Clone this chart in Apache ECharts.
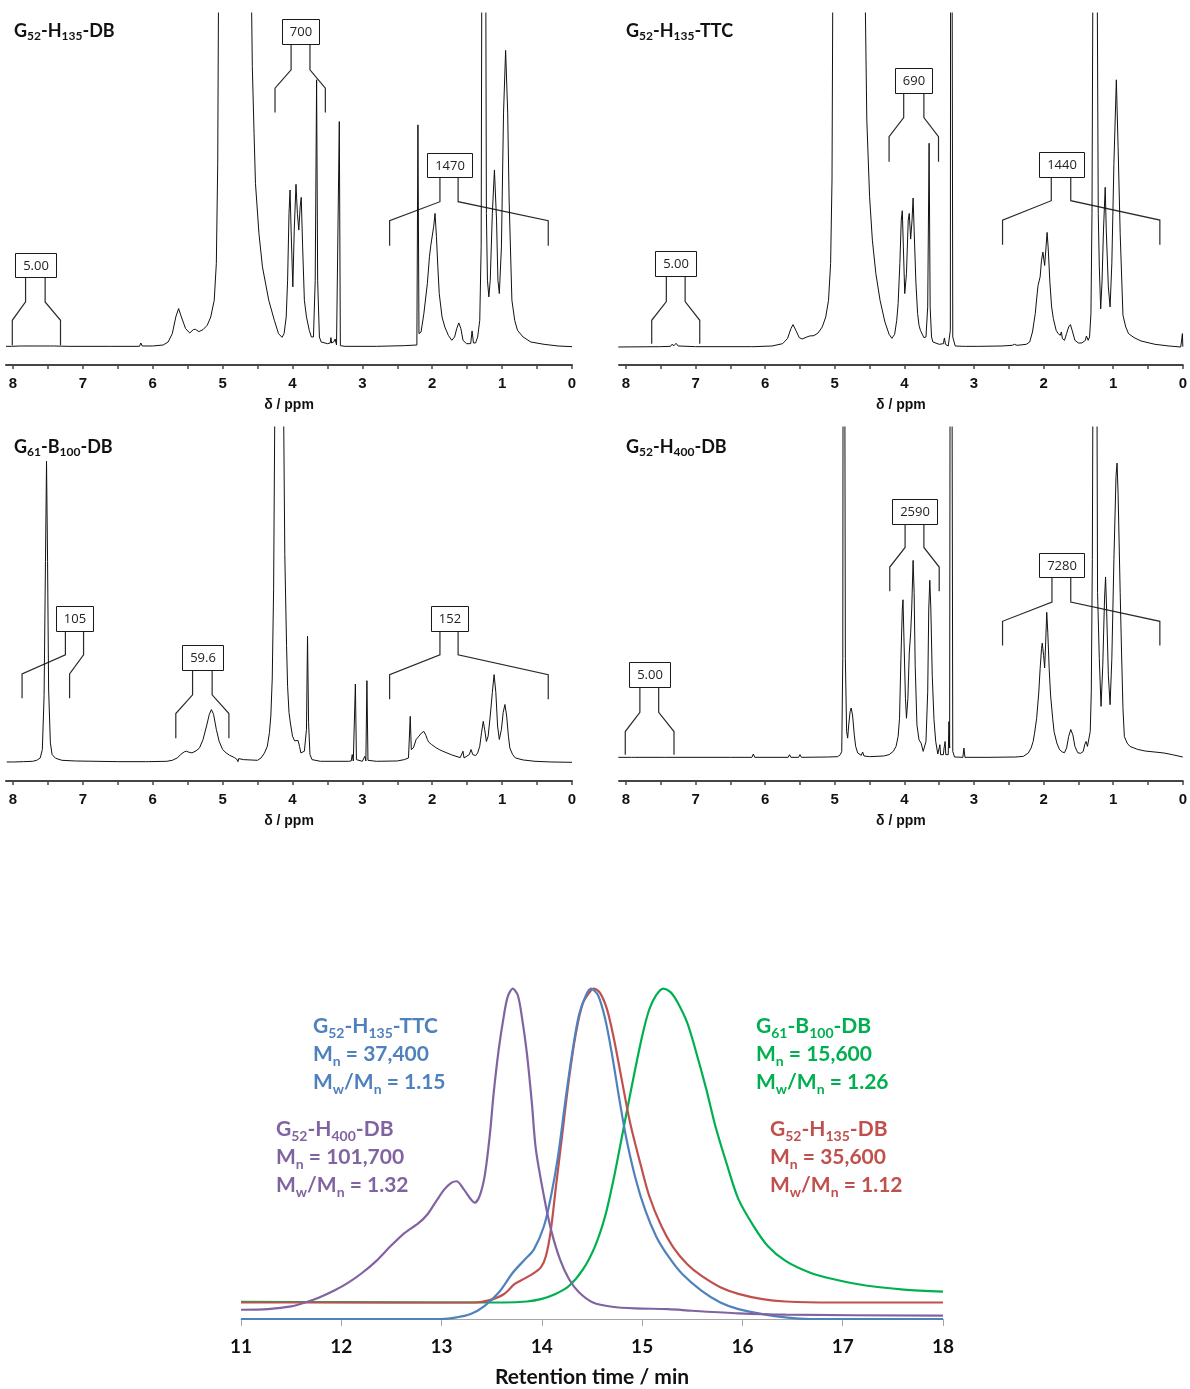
<!DOCTYPE html>
<html>
<head>
<meta charset="utf-8">
<title>1H NMR spectra and SEC traces</title>
<script src="https://cdn.jsdelivr.net/npm/echarts@6/dist/echarts.min.js"></script>
<style>
  html, body { margin: 0; padding: 0; background: #ffffff; }
  #chart { width: 1190px; height: 1389px; }
</style>
</head>
<body>
<div id="chart"></div>
<script>
// ---------------- 1H NMR data: [delta / ppm, relative intensity] ----------------
const ppmTicks = [8, 7, 6, 5, 4, 3, 2, 1, 0];
const ppmTickMarks = [8, 7.5, 7, 6.5, 6, 5.5, 5, 4.5, 4, 3.5, 3, 2.5, 2, 1.5, 1, 0.5, 0];

const spectrumDB135 = [
  [8.1,0.2],[8.02,0.2],[7.9,0.3],[7.88,0.7],[7.86,0.3],[7.64,0.3],[7.62,0.6],[7.6,0.3],[7.46,0.3],[7.44,0.8],[7.42,0.3],
  [7.2,0.2],[6.6,0.2],[6.19,0.2],[6.17,1.2],[6.15,0.3],[6.0,0.3],[5.85,0.6],[5.78,1.5],[5.72,4],[5.67,9],[5.63,11.5],
  [5.59,9],[5.53,5.5],[5.47,4.2],[5.42,5.2],[5.39,5.3],[5.34,4.6],[5.28,5.2],[5.22,6.5],[5.17,9],[5.12,14],[5.09,25],
  [5.07,55],[5.06,100],[5.04,300],[4.82,600],[4.61,300],[4.59,110],[4.575,84],[4.55,64],[4.53,49],[4.48,34],[4.43,24],
  [4.34,14],[4.26,8],[4.2,4],[4.15,2.9],[4.12,4],[4.09,9],[4.07,20],[4.05,40],[4.035,47],[4.02,35],[3.995,18],[3.975,35],
  [3.95,48.7],[3.93,40],[3.91,35],[3.89,42],[3.875,44.8],[3.855,30],[3.83,14],[3.8,9],[3.78,8.5],[3.76,5],[3.73,3],
  [3.70,3],[3.675,20],[3.655,80],[3.64,20],[3.615,3],[3.59,1.5],[3.5,1],[3.46,1.2],[3.45,2.8],[3.44,1.2],[3.41,1.5],
  [3.39,2.4],[3.37,0.6],[3.345,0.4],[3.33,67.5],[3.315,0.4],[3.25,0.2],[2.8,0.2],[2.4,0.4],[2.22,0.6],[2.205,66.5],
  [2.19,4],[2.16,4.5],[2.12,10],[2.07,19],[2.04,27],[2.02,30.5],[2.0,30],[1.98,36],[1.96,40],[1.94,33],[1.92,24],
  [1.9,16],[1.86,9],[1.82,6],[1.77,3.5],[1.72,2],[1.68,3],[1.65,5.5],[1.62,7.2],[1.59,5.5],[1.56,2],[1.51,1],[1.45,1],
  [1.43,4.8],[1.41,1.2],[1.38,1.2],[1.35,3],[1.32,8],[1.3,30],[1.29,120],[1.28,300],[1.265,130],[1.25,300],[1.235,120],
  [1.225,40],[1.21,20],[1.19,15],[1.17,20],[1.14,40],[1.11,53],[1.08,38],[1.06,20],[1.04,16],[1.01,30],[0.98,70],
  [0.95,88.8],[0.92,70],[0.9,44],[0.86,14],[0.82,8],[0.78,5],[0.7,3],[0.59,1.5],[0.4,0.8],[0.2,0.3],[0,0.1]
];

const spectrumTTC135 = [
  [8.11,0],[7.5,0.1],[7.36,0.2],[7.34,0.8],[7.31,0.4],[7.28,1.1],[7.25,0.3],[7.0,0.1],[6.2,0.1],[6.18,0.4],[6.16,0.1],
  [5.9,0.3],[5.75,1],[5.68,2.5],[5.63,5.5],[5.6,6.7],[5.56,5],[5.51,2.8],[5.47,2.4],[5.4,3],[5.36,3.3],[5.3,3.4],
  [5.24,4.2],[5.18,6],[5.13,9],[5.09,14],[5.06,25],[5.04,50],[5.03,100],[5.01,300],[4.8,600],[4.58,300],[4.56,100],
  [4.54,68],[4.5,45],[4.46,32],[4.41,22],[4.35,14],[4.28,7.5],[4.22,3.8],[4.18,2.6],[4.14,3.8],[4.11,8],[4.09,13],
  [4.065,25],[4.045,38],[4.03,40.8],[4.015,30],[3.995,16],[3.97,22],[3.945,38],[3.93,40],[3.91,32.3],[3.89,38],
  [3.875,44.6],[3.86,35],[3.835,19.4],[3.81,10],[3.79,6.5],[3.77,5],[3.75,4.5],[3.72,2.8],[3.69,3],[3.665,12],
  [3.645,61],[3.63,12],[3.61,3],[3.59,1.5],[3.5,0.8],[3.44,1],[3.425,2.7],[3.41,0.8],[3.37,0.3],[3.34,5],[3.33,300],
  [3.318,300],[3.305,3],[3.27,0.3],[3.16,0.2],[3.14,0.6],[3.12,0.2],[2.97,0.2],[2.95,0.6],[2.93,0.2],[2.6,0.3],[2.45,0.5],
  [2.42,0.8],[2.38,0.5],[2.25,0.8],[2.2,1.5],[2.16,4.5],[2.12,10],[2.1,14.4],[2.08,18.4],[2.05,21],[2.03,26],[2.01,28.4],
  [1.985,24.4],[1.965,30],[1.95,34.3],[1.935,30],[1.91,19.4],[1.885,12],[1.86,8.5],[1.82,5],[1.79,4],[1.76,3.5],
  [1.745,4.5],[1.73,2.5],[1.7,2],[1.67,4],[1.64,6],[1.615,6.7],[1.59,5],[1.55,2],[1.5,1.2],[1.45,1.2],[1.4,2],
  [1.385,3.3],[1.36,2],[1.34,3],[1.32,10],[1.305,40],[1.29,120],[1.28,300],[1.26,130],[1.245,300],[1.23,110],
  [1.215,40],[1.2,24],[1.18,11.4],[1.16,20],[1.14,35],[1.115,47.8],[1.1,35],[1.07,18],[1.045,12],[1.02,25],[0.99,55],
  [0.955,80],[0.93,60],[0.9,34],[0.86,9.5],[0.82,6],[0.78,4],[0.7,2.8],[0.6,1.8],[0.4,0.8],[0.2,0.3],[0.03,0],
  [0.012,0.1],[0.006,4],[0,0.1]
];

const spectrumB100 = [
  [8.09,0.3],[8.02,0.3],[8.0,0.7],[7.98,0.3],[7.85,0.4],[7.72,0.5],[7.66,0.8],[7.61,1.5],[7.58,4],[7.555,20],[7.535,60],
  [7.52,89.8],[7.505,60],[7.49,22],[7.465,6],[7.44,2.5],[7.39,1.4],[7.3,0.8],[7.11,0.6],[6.5,0.4],[6.1,0.4],[6.08,0.7],
  [6.06,0.4],[5.8,0.5],[5.72,0.8],[5.65,1.5],[5.6,2.5],[5.55,3.3],[5.52,3.5],[5.48,3.2],[5.44,3],[5.38,3.6],[5.33,4.5],
  [5.28,7],[5.23,11],[5.19,14.5],[5.16,15.9],[5.13,14.5],[5.09,10],[5.05,6.5],[5.0,4],[4.95,3],[4.9,2.3],[4.83,1.6],
  [4.8,1.2],[4.78,0.4],[4.77,1.3],[4.7,1],[4.5,0.8],[4.45,1.5],[4.4,3],[4.36,5],[4.33,9],[4.31,14],[4.29,25],[4.27,52],
  [4.255,100],[4.24,300],[4.19,500],[4.14,300],[4.125,100],[4.11,62],[4.085,35],[4.07,22.8],[4.05,15],[4.03,11.9],
  [4.0,8],[3.97,6.6],[3.945,6.3],[3.92,6.7],[3.9,5],[3.88,3],[3.86,2.5],[3.83,3.5],[3.80,10],[3.785,37.7],[3.77,12],
  [3.75,2.5],[3.72,1],[3.6,0.5],[3.2,0.5],[3.16,0.6],[3.145,2.5],[3.13,0.6],[3.115,1],[3.1,23.5],[3.085,1],[3.0,0.5],
  [2.98,0.6],[2.965,2],[2.95,0.6],[2.935,24.5],[2.92,0.8],[2.8,0.5],[2.5,0.6],[2.4,1],[2.34,1.5],[2.315,13.9],[2.3,4],
  [2.27,4.5],[2.23,7],[2.19,8],[2.15,9],[2.12,9.4],[2.09,8.2],[2.07,7],[2.05,6.2],[2.03,5.7],[2.01,5.5],[1.95,4.6],
  [1.9,4],[1.85,3.5],[1.79,3],[1.72,2.4],[1.66,2],[1.6,1.6],[1.575,1.5],[1.56,3.5],[1.545,1.5],[1.52,1.6],[1.47,2.5],
  [1.445,4],[1.42,2.5],[1.38,2.2],[1.35,3],[1.32,5],[1.295,9],[1.27,12.4],[1.25,10],[1.225,6.4],[1.2,8],[1.17,14],
  [1.14,21],[1.115,26.3],[1.09,21],[1.065,11],[1.04,7],[1.01,10],[0.985,15],[0.96,17.4],[0.935,14],[0.91,8],[0.89,4.5],
  [0.85,2.5],[0.81,1.5],[0.7,0.9],[0.53,0.5],[0.3,0.3],[0,0.2]
];

const spectrumDB400 = [
  [8.11,0.2],[7.92,0.2],[7.9,0.5],[7.88,0.2],[7.47,0.2],[7.45,0.5],[7.43,0.2],[6.5,0.2],[6.19,0.2],[6.17,1.2],[6.15,0.2],
  [5.67,0.2],[5.65,1],[5.63,0.2],[5.52,0.2],[5.5,1],[5.48,0.2],[5.1,0.3],[4.96,0.4],[4.92,1],[4.9,2],[4.885,30],
  [4.873,300],[4.86,300],[4.848,30],[4.83,8],[4.815,6],[4.8,10],[4.78,14],[4.765,15.1],[4.745,13],[4.72,7],[4.7,3.5],
  [4.67,1.5],[4.62,0.8],[4.6,1.8],[4.58,0.6],[4.5,0.4],[4.3,0.6],[4.22,1],[4.16,2],[4.12,3.5],[4.09,6.5],[4.07,12],
  [4.05,30],[4.03,45],[4.02,47.8],[4.005,35],[3.985,18],[3.97,12],[3.95,18],[3.93,31.7],[3.91,37.8],[3.895,45],
  [3.875,59.7],[3.86,50],[3.845,28],[3.82,10],[3.79,5.5],[3.76,4.5],[3.73,2],[3.71,1.5],[3.69,5],[3.665,20],[3.65,45],
  [3.635,53.7],[3.62,45],[3.6,25],[3.575,11.6],[3.55,5],[3.52,1.2],[3.5,1.2],[3.49,4],[3.48,1],[3.44,1],[3.43,3],
  [3.415,5],[3.405,1],[3.37,1],[3.36,11],[3.35,3],[3.333,300],[3.32,300],[3.305,2],[3.28,0.3],[3.16,0.2],[3.145,3],
  [3.13,0.2],[2.8,0.2],[2.4,0.3],[2.29,0.5],[2.22,1.5],[2.18,3],[2.15,5],[2.13,7.5],[2.1,12],[2.07,19.6],[2.05,27],
  [2.03,33],[2.02,34.7],[2.0,31],[1.985,27.2],[1.97,35],[1.955,44],[1.94,38],[1.92,27],[1.9,19],[1.87,12],[1.85,8],
  [1.81,4.5],[1.77,2.5],[1.73,1.8],[1.7,1.6],[1.67,3],[1.64,6.5],[1.61,8.6],[1.58,7],[1.55,3.5],[1.51,1.6],[1.47,1.4],
  [1.43,2],[1.41,4],[1.39,5],[1.37,3.5],[1.35,4],[1.33,8],[1.315,20],[1.3,60],[1.29,120],[1.28,300],[1.265,150],
  [1.25,300],[1.235,120],[1.225,50],[1.2,30],[1.175,15.6],[1.15,28],[1.125,48],[1.11,54.7],[1.095,45],[1.07,25],
  [1.045,16.1],[1.02,30],[0.99,60],[0.96,85],[0.945,89.1],[0.93,80],[0.9,50],[0.88,31.7],[0.86,15],[0.84,6.5],
  [0.8,4.5],[0.76,3.5],[0.65,2.6],[0.54,2.1],[0.4,1.8],[0.27,1.5],[0.15,1],[0,0.3]
];

// Integrals: printed value and integrated region [from, to] in ppm
const integralLabelsDB135 = ['5.00', '700', '1470'];
const integralRangesDB135 = [[8.01, 7.32], [4.25, 3.53], [2.61, 0.34]];
const integralLabelsTTC135 = ['5.00', '690', '1440'];
const integralRangesTTC135 = [[7.63, 6.94], [4.22, 3.51], [2.59, 0.33]];
const integralLabelsB100 = ['105', '59.6', '152'];
const integralRangesB100 = [[7.87, 7.19], [5.67, 4.91], [2.61, 0.34]];
const integralLabelsDB400 = ['5.00', '2590', '7280'];
const integralRangesDB400 = [[8.01, 7.31], [4.21, 3.50], [2.59, 0.33]];

// ---------------- SEC data: [retention time / min, normalised RI response] ----------------
const retentionTicks = [11, 12, 13, 14, 15, 16, 17, 18];

const secTTC135 = [
  [11,0],[12,0],[13,0],[13.15,0.005],[13.29,0.015],[13.43,0.04],[13.57,0.08],[13.71,0.14],[13.83,0.18],[13.92,0.21],
  [14.02,0.28],[14.09,0.37],[14.16,0.49],[14.23,0.65],[14.30,0.80],[14.37,0.92],[14.44,0.98],[14.49,1.0],[14.56,0.98],
  [14.63,0.91],[14.70,0.80],[14.77,0.67],[14.84,0.55],[14.93,0.43],[15.03,0.33],[15.14,0.25],[15.26,0.19],[15.40,0.136],
  [15.59,0.086],[15.78,0.05],[15.96,0.03],[16.20,0.015],[16.43,0.005],[16.67,0],[18,0]
];
const secDB135 = [
  [11,0.05],[12,0.05],[13,0.05],[13.33,0.05],[13.48,0.057],[13.62,0.075],[13.73,0.106],[13.83,0.123],[13.92,0.139],
  [13.99,0.156],[14.04,0.19],[14.09,0.27],[14.14,0.40],[14.20,0.55],[14.27,0.725],[14.34,0.866],[14.41,0.957],
  [14.49,0.995],[14.52,1.0],[14.58,0.987],[14.65,0.937],[14.72,0.846],[14.79,0.735],[14.88,0.594],[14.98,0.473],
  [15.07,0.373],[15.19,0.282],[15.31,0.217],[15.45,0.166],[15.59,0.131],[15.78,0.096],[15.96,0.076],[16.20,0.06],
  [16.43,0.053],[16.90,0.05],[18,0.05]
];
const secB100 = [
  [11,0.052],[12,0.051],[13,0.05],[13.62,0.05],[13.85,0.053],[13.99,0.06],[14.13,0.075],[14.27,0.1],[14.41,0.15],
  [14.53,0.22],[14.63,0.31],[14.72,0.43],[14.81,0.57],[14.91,0.725],[15.0,0.856],[15.07,0.936],[15.14,0.98],[15.21,1.0],
  [15.28,0.99],[15.35,0.96],[15.45,0.896],[15.54,0.806],[15.64,0.695],[15.73,0.584],[15.85,0.463],[15.96,0.363],
  [16.11,0.282],[16.25,0.222],[16.43,0.176],[16.67,0.141],[16.90,0.121],[17.14,0.106],[17.37,0.096],[17.61,0.089],[18,0.083]
];
const secDB400 = [
  [11,0.028],[11.27,0.03],[11.5,0.038],[11.64,0.05],[11.78,0.065],[11.93,0.086],[12.07,0.11],[12.21,0.14],[12.35,0.176],
  [12.49,0.22],[12.63,0.26],[12.77,0.29],[12.86,0.317],[12.96,0.363],[13.03,0.393],[13.10,0.413],[13.15,0.417],
  [13.22,0.393],[13.29,0.363],[13.33,0.352],[13.38,0.373],[13.43,0.433],[13.48,0.554],[13.52,0.685],[13.57,0.816],
  [13.62,0.916],[13.66,0.976],[13.71,1.0],[13.76,0.98],[13.80,0.916],[13.85,0.806],[13.90,0.655],[13.94,0.514],
  [14.02,0.373],[14.09,0.272],[14.18,0.181],[14.27,0.121],[14.37,0.081],[14.51,0.05],[14.70,0.037],[14.93,0.032],
  [15.26,0.03],[15.50,0.025],[15.96,0.017],[16.43,0.013],[18,0.01]
];

const sampleNames = ['G_{52}-H_{135}-DB', 'G_{52}-H_{135}-TTC', 'G_{61}-B_{100}-DB', 'G_{52}-H_{400}-DB'];
const sampleMn = [35600, 37400, 15600, 101700];
const sampleDispersity = [1.12, 1.15, 1.26, 1.32];

// ---------------- layout & styles ----------------
const secColors = ['#C0504D', '#4F81BD', '#00B050', '#8064A2'];
const axisFont = 'Liberation Sans';
const textFont = 'Lato';

// Integral bracket geometry per panel: stem positions (ppm) and the levels
// (intensity units) of box top, box bottom, stem end, shoulder and foot.
const bracketGeometry = [
  [
    { stems: [7.82, 7.54], levels: [28, 21, 13.5, 8, 0.5] },
    { stems: [4.02, 3.75], levels: [98.2, 90.7, 83, 77.5, 70.2] },
    { stems: [1.89, 1.63], levels: [58.2, 50.8, 43.5, 37.8, 30.3] }
  ],
  [
    { stems: [7.42, 7.15], levels: [28.6, 21.4, 13.6, 8, 1] },
    { stems: [4.01, 3.72], levels: [83.6, 75.9, 68.7, 63, 55.5] },
    { stems: [1.89, 1.61], levels: [58.4, 51, 43.8, 38, 30.6] }
  ],
  [
    { stems: [7.25, 6.99], levels: [46.6, 39.4, 32.2, 26.5, 19.3] },
    { stems: [5.43, 5.15], levels: [35, 27.8, 20.3, 14.7, 7.4] },
    { stems: [1.89, 1.63], levels: [46.6, 39.4, 32.2, 26.3, 19] }
  ],
  [
    { stems: [7.80, 7.53], levels: [28.9, 21.5, 13.8, 8, 1] },
    { stems: [3.99, 3.72], levels: [78.3, 70.8, 63.6, 57.7, 50.4] },
    { stems: [1.88, 1.61], levels: [61.9, 54.7, 47.1, 41.3, 34] }
  ]
];

const nmrPanels = [
  { grid: { left: 6, right: 618, top: 13, bottom: 1024 }, yMin: -5.39, spectrum: spectrumDB135,
    labels: integralLabelsDB135, ranges: integralRangesDB135, title: sampleNames[0], titlePos: [14, 22] },
  { grid: { left: 619, right: 7, top: 13, bottom: 1024 }, yMin: -5.39, spectrum: spectrumTTC135,
    labels: integralLabelsTTC135, ranges: integralRangesTTC135, title: sampleNames[1], titlePos: [626, 22] },
  { grid: { left: 6, right: 618, top: 427, bottom: 608 }, yMin: -5.36, spectrum: spectrumB100,
    labels: integralLabelsB100, ranges: integralRangesB100, title: sampleNames[2], titlePos: [14, 438] },
  { grid: { left: 619, right: 7, top: 427, bottom: 608 }, yMin: -6.95, spectrum: spectrumDB400,
    labels: integralLabelsDB400, ranges: integralRangesDB400, title: sampleNames[3], titlePos: [626, 438] }
];

// Turn "G_{52}-H_{135}" into rich-text tokens with subscripts
function richSub(str, main, sub) {
  const parts = str.split(/_\{([^}]*)\}/);
  let out = '';
  parts.forEach((p, i) => {
    if (p === '') return;
    out += '{' + (i % 2 ? sub : main) + '|' + p + '}';
  });
  return out;
}

const measureCtx = document.createElement('canvas').getContext('2d');
function textWidth(txt, font) {
  measureCtx.font = font;
  return measureCtx.measureText(txt).width;
}

const boxFont = '13px "Open Sans"';

function bracketRenderer(panelIndex) {
  const panel = nmrPanels[panelIndex];
  const geom = bracketGeometry[panelIndex];
  return function (params, api) {
    const i = params.dataIndex;
    const from = panel.ranges[i][0], to = panel.ranges[i][1];
    const g = geom[i];
    const [boxTop, boxBottom, stemEnd, shoulder, foot] = g.levels;
    const c = (x, y) => api.coord([x, y]);
    const left = [c(from, foot), c(from, shoulder), c(g.stems[0], stemEnd), c(g.stems[0], boxBottom)];
    const right = [c(to, foot), c(to, shoulder), c(g.stems[1], stemEnd), c(g.stems[1], boxBottom)];
    const yTop = Math.round(c(0, boxTop)[1]) + 0.5;
    const yBot = Math.round(c(0, boxBottom)[1]) + 0.5;
    const cx = (c(g.stems[0], 0)[0] + c(g.stems[1], 0)[0]) / 2;
    const label = panel.labels[i];
    const w = Math.round(Math.max(35, textWidth(label, boxFont) + 15));
    const x0 = Math.round(cx - w / 2) + 0.5;
    const lineStyle = { stroke: '#2a2a2a', lineWidth: 1.2, fill: null };
    return {
      type: 'group',
      children: [
        { type: 'polyline', shape: { points: left }, style: lineStyle },
        { type: 'polyline', shape: { points: right }, style: lineStyle },
        { type: 'rect', shape: { x: x0, y: yTop, width: w, height: yBot - yTop },
          style: { fill: '#ffffff', stroke: '#1a1a1a', lineWidth: 1 } },
        { type: 'text', style: { text: label, x: x0 + w / 2, y: (yTop + yBot) / 2 + 0.5,
          align: 'center', verticalAlign: 'middle', font: boxFont, fill: '#222222' } }
      ]
    };
  };
}

const grids = [], xAxes = [], yAxes = [], series = [], graphics = [];

nmrPanels.forEach((p, i) => {
  grids.push(p.grid);
  xAxes.push({
    gridIndex: i, type: 'value', min: 0, max: 8.1, inverse: true,
    axisLine: { show: true, onZero: false, lineStyle: { color: '#454545', width: 2 } },
    axisTick: { show: true, customValues: ppmTickMarks, length: 4, lineStyle: { color: '#454545', width: 1.5 } },
    axisLabel: { customValues: ppmTicks, margin: 11, fontFamily: axisFont, fontWeight: 'bold', fontSize: 15, color: '#111' },
    splitLine: { show: false },
    name: 'δ / ppm', nameLocation: 'middle', nameGap: 33,
    nameTextStyle: { fontFamily: axisFont, fontWeight: 'bold', fontSize: 14, color: '#111' }
  });
  yAxes.push({ gridIndex: i, type: 'value', min: p.yMin, max: 100, show: false });
  series.push({
    type: 'line', xAxisIndex: i, yAxisIndex: i, data: p.spectrum, showSymbol: false, symbol: 'none',
    lineStyle: { color: '#111111', width: 1 }, clip: true, silent: true, animation: false
  });
  series.push({
    type: 'custom', xAxisIndex: i, yAxisIndex: i, clip: false, silent: true, animation: false,
    data: p.ranges.map((r, k) => [r[0], r[1], k]),
    encode: { x: [0, 1], y: 2 },
    renderItem: bracketRenderer(i)
  });
  graphics.push({
    type: 'text', left: p.titlePos[0], top: p.titlePos[1],
    style: {
      text: richSub(p.title, 'm', 's'),
      rich: {
        m: { fontFamily: textFont, fontWeight: 'bold', fontSize: 18, lineHeight: 22, fill: '#111' },
        s: { fontFamily: textFont, fontWeight: 'bold', fontSize: 12, lineHeight: 11, verticalAlign: 'bottom', fill: '#111' }
      }
    }
  });
});

// SEC panel
const secIndex = nmrPanels.length;
grids.push({ left: 241, right: 247, top: 982, bottom: 69 });
xAxes.push({
  gridIndex: secIndex, type: 'value', min: 11, max: 18, interval: 1,
  axisLine: { show: true, onZero: false, lineStyle: { color: '#a6a6a6', width: 1.2 } },
  axisTick: { show: true, customValues: retentionTicks, length: 7, lineStyle: { color: '#a6a6a6', width: 1 } },
  axisLabel: { customValues: retentionTicks, margin: 18, fontFamily: textFont, fontWeight: 'bold', fontSize: 19, color: '#111' },
  splitLine: { show: false },
  name: 'Retention time / min', nameLocation: 'middle', nameGap: 48,
  nameTextStyle: { fontFamily: textFont, fontWeight: 'bold', fontSize: 21, color: '#111' }
});
yAxes.push({ gridIndex: secIndex, type: 'value', min: 0, max: 1.02, show: false });

const secTraces = [secDB135, secTTC135, secB100, secDB400];
[2, 0, 1, 3].forEach(k => {
  series.push({
    type: 'line', xAxisIndex: secIndex, yAxisIndex: secIndex, data: secTraces[k],
    showSymbol: false, symbol: 'none', smooth: 0.3, clip: false,
    lineStyle: { color: secColors[k], width: 2.2 }, silent: true, animation: false
  });
});

// SEC annotations: sample name, Mn and dispersity
const secLabelPos = [[770, 1119], [313, 1016], [756, 1016], [276, 1119]];
sampleNames.forEach((name, k) => {
  const txt = richSub(name, 'm', 's') + '\n' +
    richSub('M_{n} = ' + sampleMn[k].toLocaleString('en-US'), 'm', 's') + '\n' +
    richSub('M_{w}/M_{n} = ' + sampleDispersity[k].toFixed(2), 'm', 's');
  graphics.push({
    type: 'text', left: secLabelPos[k][0], top: secLabelPos[k][1],
    style: {
      text: txt,
      rich: {
        m: { fontFamily: textFont, fontWeight: 'bold', fontSize: 21, lineHeight: 28, fill: secColors[k] },
        s: { fontFamily: textFont, fontWeight: 'bold', fontSize: 14, lineHeight: 13, verticalAlign: 'bottom', fill: secColors[k] }
      }
    }
  });
});

const chart = echarts.init(document.getElementById('chart'), null, { renderer: 'canvas' });
chart.setOption({
  backgroundColor: '#ffffff',
  animation: false,
  grid: grids,
  xAxis: xAxes,
  yAxis: yAxes,
  series: series,
  graphic: graphics
});
</script>
</body>
</html>
